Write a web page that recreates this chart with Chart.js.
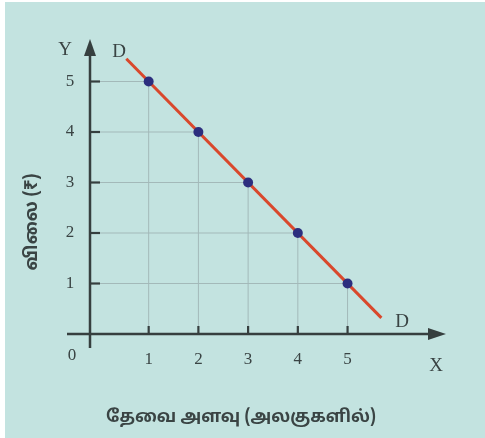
<!DOCTYPE html>
<html>
<head>
<meta charset="utf-8">
<script src="https://cdn.jsdelivr.net/npm/chart.js@4"></script>
<style>
  html, body { margin: 0; padding: 0; background: #ffffff; }
  canvas { display: block; }
</style>
</head>
<body>
<canvas id="demandChart" width="485" height="438"></canvas>
<script>
// Datos de la curva de demanda
const quantity = [1, 2, 3, 4, 5];
const price = [5, 4, 3, 2, 1];
// Extremos de la recta DD
const lineQuantity = [0.55, 5.68];
const linePrice = [5.45, 0.32];
// Etiquetas de los ejes
const xTicks = [1, 2, 3, 4, 5];
const yTicks = [1, 2, 3, 4, 5];
const xTitle = 'தேவை அளவு (அலகுகளில்)';
const yTitle = 'விலை (₹)';

const X_MIN = -0.18;
const tamilFont = '"Noto Sans Tamil", "Lohit Tamil", "Noto Sans", sans-serif';
const serifFont = '"Liberation Serif", "DejaVu Serif", serif';
const inkColor = '#3a4444';

// Líneas de proyección desde los ejes hasta cada punto
const dropSets = [];
quantity.forEach((q, i) => {
    dropSets.push({
        data: [{ x: q, y: 0 }, { x: q, y: price[i] }],
        showLine: true, borderColor: '#a3b9b9', borderWidth: 1, pointRadius: 0, order: 3
    });
    dropSets.push({
        data: [{ x: X_MIN, y: price[i] }, { x: q, y: price[i] }],
        showLine: true, borderColor: '#a3b9b9', borderWidth: 1, pointRadius: 0, order: 3
    });
});

// Fondo, ejes con flechas y textos
const axesPlugin = {
    id: 'axesPlugin',
    beforeDraw(chart) {
        const ctx = chart.ctx;
        ctx.save();
        ctx.fillStyle = '#ffffff';
        ctx.fillRect(0, 0, chart.width, chart.height);
        ctx.fillStyle = '#c3e3e0';
        ctx.fillRect(5, 2, chart.width - 5, chart.height - 2);
        ctx.restore();
    },
    afterDatasetsDraw(chart) {
        const ctx = chart.ctx;
        const xs = chart.scales.x, ys = chart.scales.y;
        const x0 = xs.getPixelForValue(X_MIN);
        const y0 = ys.getPixelForValue(0);
        ctx.save();
        ctx.strokeStyle = '#363f3f';
        ctx.fillStyle = '#363f3f';
        ctx.lineWidth = 2.5;
        // eje Y
        ctx.beginPath();
        ctx.moveTo(x0, y0 + 14);
        ctx.lineTo(x0, 52);
        ctx.stroke();
        ctx.beginPath();
        ctx.moveTo(x0, 39);
        ctx.lineTo(x0 - 6, 56);
        ctx.lineTo(x0 + 6, 56);
        ctx.closePath();
        ctx.fill();
        // eje X
        ctx.beginPath();
        ctx.moveTo(67, y0);
        ctx.lineTo(432, y0);
        ctx.stroke();
        ctx.beginPath();
        ctx.moveTo(446, y0);
        ctx.lineTo(428, y0 - 6);
        ctx.lineTo(428, y0 + 6);
        ctx.closePath();
        ctx.fill();
        // marcas
        ctx.lineWidth = 2.2;
        yTicks.forEach(v => {
            const py = ys.getPixelForValue(v);
            ctx.beginPath();
            ctx.moveTo(x0, py);
            ctx.lineTo(x0 + 10, py);
            ctx.stroke();
        });
        xTicks.forEach(v => {
            const px = xs.getPixelForValue(v);
            ctx.beginPath();
            ctx.moveTo(px, y0);
            ctx.lineTo(px, y0 - 8);
            ctx.stroke();
        });
        ctx.restore();
    },
    afterDraw(chart) {
        const ctx = chart.ctx;
        const xs = chart.scales.x, ys = chart.scales.y;
        ctx.save();
        ctx.fillStyle = inkColor;
        ctx.textAlign = 'center';
        ctx.textBaseline = 'middle';
        ctx.font = '17px ' + serifFont;
        xTicks.forEach(v => ctx.fillText(String(v), xs.getPixelForValue(v), 360));
        yTicks.forEach(v => ctx.fillText(String(v), 70, ys.getPixelForValue(v)));
        ctx.fillText('0', 72, 356);
        ctx.font = '19px ' + serifFont;
        ctx.fillText('Y', 65, 50);
        ctx.fillText('X', 436, 366);
        ctx.fillText('D', 119, 52);
        ctx.fillText('D', 402, 322);
        // títulos
        ctx.font = 'bold 17px ' + tamilFont;
        ctx.fillText(xTitle, 241, 419);
        ctx.translate(33, 222);
        ctx.rotate(-Math.PI / 2);
        ctx.font = 'bold 18px ' + tamilFont;
        ctx.fillText(yTitle, 0, 0);
        ctx.restore();
    }
};

const ctx = document.getElementById('demandChart').getContext('2d');
new Chart(ctx, {
    type: 'scatter',
    data: {
        datasets: [
            ...dropSets,
            {
                data: lineQuantity.map((q, i) => ({ x: q, y: linePrice[i] })),
                showLine: true,
                borderColor: '#d9482c',
                borderWidth: 3,
                pointRadius: 0,
                order: 2
            },
            {
                data: quantity.map((q, i) => ({ x: q, y: price[i] })),
                pointRadius: 5,
                pointBackgroundColor: '#2c2e7e',
                pointBorderColor: '#2c2e7e',
                pointBorderWidth: 0,
                order: 1
            }
        ]
    },
    options: {
        responsive: false,
        animation: false,
        layout: { padding: { left: 90, right: 38, top: 31, bottom: 104 } },
        plugins: { legend: { display: false }, tooltip: { enabled: false } },
        scales: {
            x: { type: 'linear', min: X_MIN, max: 7, display: false },
            y: { type: 'linear', min: 0, max: 6, display: false }
        }
    },
    plugins: [axesPlugin]
});
</script>
</body>
</html>
